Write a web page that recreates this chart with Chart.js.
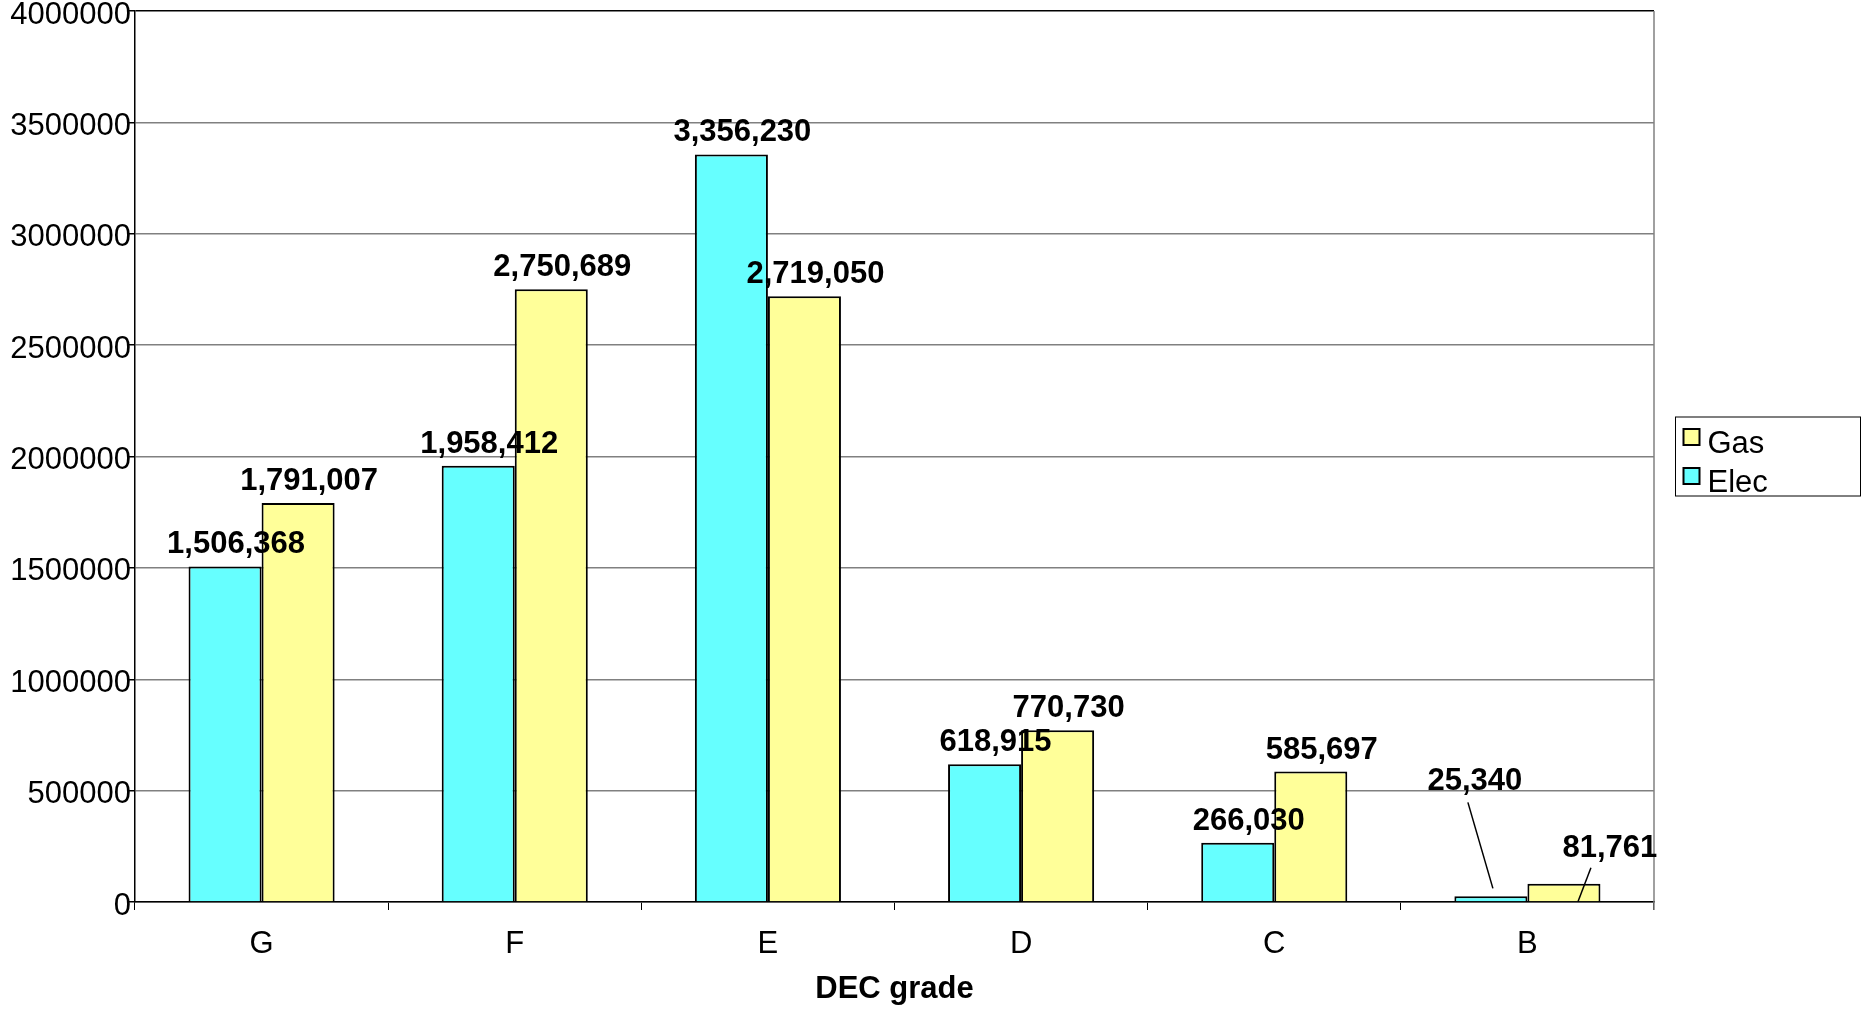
<!DOCTYPE html>
<html>
<head>
<meta charset="utf-8">
<script src="https://cdn.jsdelivr.net/npm/chart.js@4/dist/chart.umd.min.js"></script>
<style>
  html, body { margin: 0; padding: 0; background: #fff; }
  #wrap { width: 1861px; height: 1011px; }
</style>
</head>
<body>
<div id="wrap"><canvas id="decChart"></canvas></div>
<script>
// DEC grade categories and the two series
const grades = ["G", "F", "E", "D", "C", "B"];
const elecValues = [1506368, 1958412, 3356230, 618915, 266030, 25340];
const gasValues = [1791007, 2750689, 2719050, 770730, 585697, 81761];
const yTicks = [0, 500000, 1000000, 1500000, 2000000, 2500000, 3000000, 3500000, 4000000];

const FONT = "'Liberation Sans', Arial, sans-serif";
Chart.defaults.color = "#000";
Chart.defaults.font.family = FONT;

// value labels above the bars, with leader lines for the tiny B bars
const valueLabels = {
  id: "valueLabels",
  afterDatasetsDraw(chart, args, opts) {
    const ctx = chart.ctx;
    ctx.save();
    ctx.font = "bold 31px " + FONT;
    ctx.fillStyle = "#000";
    ctx.strokeStyle = "#000";
    ctx.lineWidth = 1.5;
    ctx.textAlign = "center";
    ctx.textBaseline = "alphabetic";
    chart.data.datasets.forEach((ds, di) => {
      chart.getDatasetMeta(di).data.forEach((bar, i) => {
        const text = ds.data[i].toLocaleString("en-US");
        const lead = opts.leaders[di + "-" + i];
        if (lead) {
          const lx = bar.x + lead.dx, ly = bar.y + lead.dy;
          ctx.beginPath();
          ctx.moveTo(lx + lead.from[0], ly + lead.from[1]);
          ctx.lineTo(bar.x + lead.to[0], bar.y + lead.to[1]);
          ctx.stroke();
          ctx.fillText(text, lx, ly);
        } else {
          ctx.fillText(text, bar.x + opts.shift, bar.y - 13);
        }
      });
    });
    ctx.restore();
  }
};

// boxed legend on the right, Gas listed first
const boxLegend = {
  id: "boxLegend",
  afterDraw(chart) {
    const ctx = chart.ctx;
    const area = chart.chartArea;
    const left = area.right + 21.5;
    const mid = (area.top + area.bottom) / 2;
    const top = mid - 39.5;
    ctx.save();
    ctx.strokeStyle = "#000";
    ctx.lineWidth = 1;
    ctx.strokeRect(left, top, chart.width - 0.5 - left, 79);
    ctx.font = "31px " + FONT;
    ctx.textBaseline = "alphabetic";
    ctx.textAlign = "left";
    const items = chart.data.datasets.slice().reverse();
    items.forEach((ds, k) => {
      const sy = top + 12 + k * 39;
      ctx.fillStyle = ds.backgroundColor;
      ctx.fillRect(left + 8, sy, 16, 16);
      ctx.lineWidth = 2;
      ctx.strokeRect(left + 8, sy, 16, 16);
      ctx.fillStyle = "#000";
      ctx.fillText(ds.label, left + 32, sy + 24);
    });
    ctx.restore();
  }
};

// grey right edge of the plot area
const plotFrame = {
  id: "plotFrame",
  beforeDatasetsDraw(chart) {
    const {ctx, chartArea} = chart;
    ctx.save();
    ctx.strokeStyle = "#808080";
    ctx.lineWidth = 1.5;
    ctx.beginPath();
    ctx.moveTo(chartArea.right, chartArea.top);
    ctx.lineTo(chartArea.right, chartArea.bottom + 8);
    ctx.stroke();
    ctx.restore();
  }
};

const data = {
  labels: grades,
  datasets: [
    {
      label: "Elec",
      data: elecValues,
      backgroundColor: "#66FFFF",
      borderColor: "#000",
      borderWidth: 2,
      borderSkipped: "start"
    },
    {
      label: "Gas",
      data: gasValues,
      backgroundColor: "#FFFF99",
      borderColor: "#000",
      borderWidth: 2,
      borderSkipped: "start"
    }
  ]
};

const config = {
  type: "bar",
  data: data,
  options: {
    responsive: true,
    maintainAspectRatio: false,
    animation: false,
    categoryPercentage: 0.577,
    barPercentage: 1,
    layout: {padding: {top: 11, right: 207, bottom: 0, left: 0}},
    plugins: {
      legend: {display: false},
      tooltip: {enabled: false},
      valueLabels: {
        shift: 11,
        leaders: {
          "0-5": {dx: -16, dy: -106, from: [-7, 12], to: [2, -8]},
          "1-5": {dx: 46, dy: -27, from: [-19, 11], to: [14, 18]}
        }
      }
    },
    scales: {
      x: {
        grid: {display: true, drawOnChartArea: false, drawTicks: true, tickLength: 8, color: "#000", offset: true},
        border: {color: "#000", width: 1.5},
        ticks: {font: {size: 31}, padding: 16, color: "#000"},
        title: {display: true, text: "DEC grade", font: {size: 31, weight: "bold"}, padding: {top: 4, bottom: 3}, color: "#000"},
        afterFit(scale) { scale.height = 109; }
      },
      y: {
        min: 0,
        max: 4000000,
        afterBuildTicks(scale) { scale.ticks = yTicks.map(v => ({value: v})); },
        grid: {
          color: c => (c.tick && c.tick.value === 4000000 ? "#000" : "#808080"),
          lineWidth: 1.5,
          tickLength: 8,
          tickColor: "#000"
        },
        border: {color: "#000", width: 1.5},
        ticks: {font: {size: 31}, padding: -4, labelOffset: 4, color: "#000", callback: v => String(v)},
        afterFit(scale) {
          scale.width = 135;
          scale.paddingTop = 0;
          scale.paddingBottom = 0;
        }
      }
    }
  },
  plugins: [plotFrame, valueLabels, boxLegend]
};

new Chart(document.getElementById("decChart"), config);
</script>
</body>
</html>
